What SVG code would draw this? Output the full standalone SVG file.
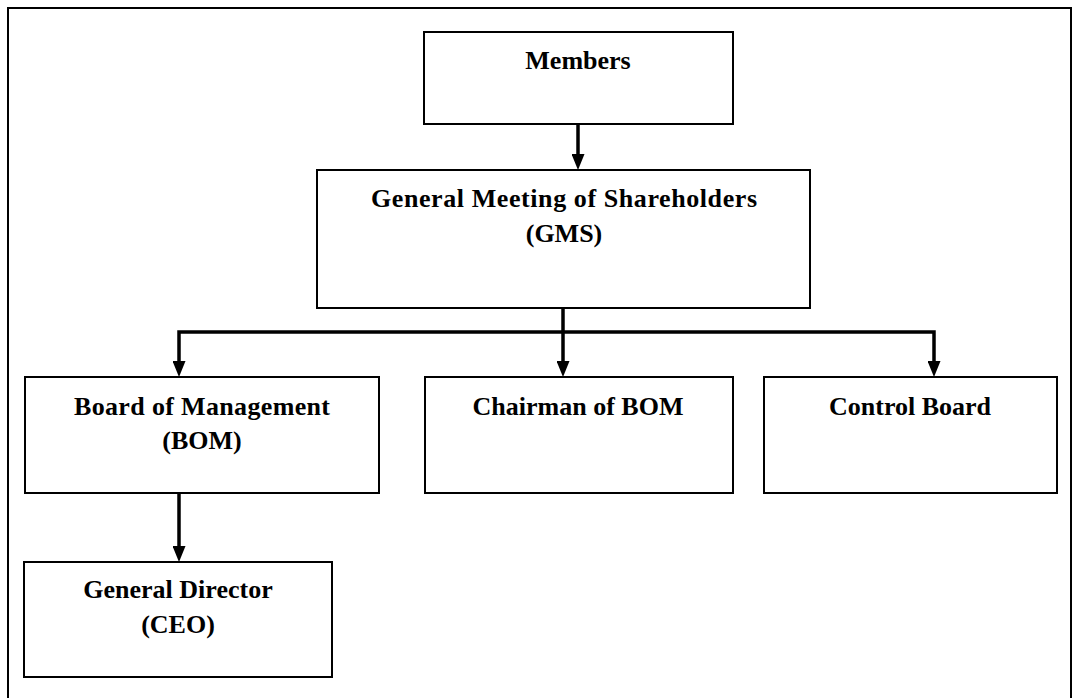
<svg xmlns="http://www.w3.org/2000/svg" width="1075" height="698" viewBox="0 0 1075 698">
<style>
.box{fill:#fff;stroke:#000;stroke-width:2}
.frame{fill:none;stroke:#000;stroke-width:2}
.t{font-family:"Liberation Serif","Times New Roman",serif;font-weight:bold;font-size:26px;fill:#000;text-anchor:middle}
.conn{fill:none;stroke:#000;stroke-width:3.5;stroke-linejoin:miter}
</style>
<defs>
<marker id="arr" markerUnits="userSpaceOnUse" markerWidth="16" markerHeight="13" refX="8" refY="6.5" orient="auto">
<path d="M0,0 L16,6.5 L0,13 z" fill="#000"/>
</marker>
</defs>
<rect class="frame" x="8" y="8" width="1063" height="710"/>
<g id="connectors">
<path class="conn" d="M578,125 V162" marker-end="url(#arr)"/>
<path class="conn" d="M563,309 V332"/>
<path class="conn" d="M563,332 H179 V369" marker-end="url(#arr)"/>
<path class="conn" d="M563,332 V369" marker-end="url(#arr)"/>
<path class="conn" d="M563,332 H934 V369" marker-end="url(#arr)"/>
<path class="conn" d="M179,494 V554" marker-end="url(#arr)"/>
</g>
<g id="members">
<rect class="box" x="424" y="32" width="309" height="92"/>
<text class="t" x="578" y="69">Members</text>
</g>
<g id="gms">
<rect class="box" x="317" y="170" width="493" height="138"/>
<text class="t" x="564" y="207" textLength="386" lengthAdjust="spacing">General Meeting of Shareholders</text>
<text class="t" x="564" y="242">(GMS)</text>
</g>
<g id="bom">
<rect class="box" x="25" y="377" width="354" height="116"/>
<text class="t" x="202" y="415" textLength="256" lengthAdjust="spacing">Board of Management</text>
<text class="t" x="202" y="449">(BOM)</text>
</g>
<g id="chairman">
<rect class="box" x="425" y="377" width="308" height="116"/>
<text class="t" x="578" y="415">Chairman of BOM</text>
</g>
<g id="control">
<rect class="box" x="764" y="377" width="293" height="116"/>
<text class="t" x="910" y="415">Control Board</text>
</g>
<g id="ceo">
<rect class="box" x="24" y="562" width="308" height="115"/>
<text class="t" x="178" y="598">General Director</text>
<text class="t" x="178" y="633">(CEO)</text>
</g>
</svg>
